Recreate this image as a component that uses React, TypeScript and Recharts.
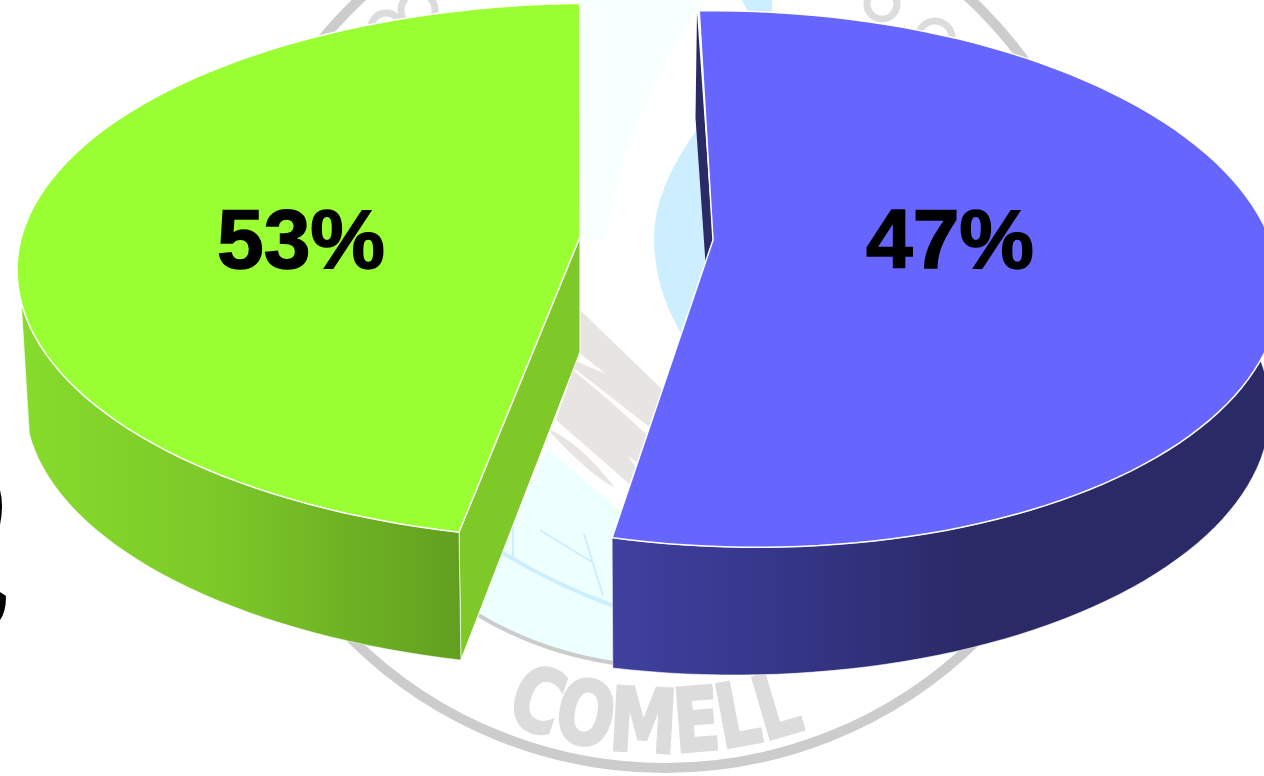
import { PieChart, Pie } from 'recharts';

const sliceNames = ['green', 'blue'];
const sliceShares = [53, 47];
const sliceLabels = ['53%', '47%'];
const sliceColors = ['#99FF33', '#6666FF'];

const chartData = sliceNames.map((name, i) => ({
  name,
  value: sliceShares[i],
  label: sliceLabels[i],
  fill: sliceColors[i],
}));

const WIDTH = 1264;
const HEIGHT = 776;
const PIE_CX = 600;
const PIE_CY = 270;
const PIE_R = 583;

// how each slice sits in the tilted view, relative to the pie centre
const views: Record<string, any> = {
  green: {
    dx: 0, dy: 0, rx: 1, ry: 267 / 583, tilt: 0, bulge: 1.012,
    baseDx: 0, baseDy: 131, baseRx: 575 / 583, baseRy: 267 / 583,
    from: 92, to: 256, wallFrom: 187, wallTo: 256, baseFrom: 187, baseTo: 256,
    apex: [-20, -33],
    stops: [['#86dc2c', 0], ['#7cc828', 0.45], ['#629f20', 1]],
    gradX: [20, 460],
    labelDx: -299,
  },
  blue: {
    dx: 135, dy: 9, rx: 545 / 583, ry: 268 / 583, tilt: 1.5, bulge: 1,
    baseDx: 135, baseDy: 140, baseRx: 535 / 583, baseRy: 265 / 583,
    from: 257.7, to: 454.5, wallFrom: 257.7, wallTo: 375, baseFrom: 256.8, baseTo: 375,
    apex: [113, -30],
    stops: [['#40409f', 0], ['#36368a', 0.25], ['#2a2a66', 0.55], ['#2a2a66', 1]],
    gradX: [614, 1264],
    labelDx: 350,
  },
};

// bulge: the near half of the disc reads slightly deeper than the far half
const onEllipse = (ex: number, ey: number, rx: number, ry: number, tilt: number, deg: number, bulge = 1) => {
  const a = (deg * Math.PI) / 180;
  const t = (tilt * Math.PI) / 180;
  const x = rx * Math.cos(a);
  const s = Math.sin(a);
  const y = -ry * s * (s < 0 ? bulge : 1);
  return [ex + x * Math.cos(t) - y * Math.sin(t), ey + x * Math.sin(t) + y * Math.cos(t)];
};

const arc = (ex: number, ey: number, rx: number, ry: number, tilt: number, d0: number, d1: number, bulge = 1) => {
  const steps = Math.max(2, Math.ceil(Math.abs(d1 - d0) / 2));
  const pts = [];
  for (let i = 0; i <= steps; i++) {
    pts.push(onEllipse(ex, ey, rx, ry, tilt, d0 + ((d1 - d0) * i) / steps, bulge));
  }
  return pts;
};

const toPath = (pts: number[][]) =>
  pts.map((p, i) => `${i === 0 ? 'M' : 'L'}${p[0].toFixed(1)} ${p[1].toFixed(1)}`).join(' ') + ' Z';

function Slice3D(props: any) {
  const { cx, cy, outerRadius, name, fill } = props;
  const v = views[name];
  const topX = cx + v.dx;
  const topY = cy + v.dy;
  const topRx = outerRadius * v.rx;
  const topRy = outerRadius * v.ry;
  const baseX = cx + v.baseDx;
  const baseY = cy + v.baseDy;
  const baseRx = outerRadius * v.baseRx;
  const baseRy = outerRadius * v.baseRy;
  const apex = [cx + v.apex[0], cy + v.apex[1]];

  const topArc = arc(topX, topY, topRx, topRy, v.tilt, v.from, v.to, v.bulge);
  const wallTop = arc(topX, topY, topRx, topRy, v.tilt, v.wallFrom, v.wallTo, v.bulge);
  const wallBase = arc(baseX, baseY, baseRx, baseRy, 0, v.baseTo, v.baseFrom);
  const gradId = `wall-${name}`;

  return (
    <g>
      <defs>
        <linearGradient id={gradId} gradientUnits="userSpaceOnUse" x1={v.gradX[0]} x2={v.gradX[1]} y1={0} y2={0}>
          {v.stops.map((s: any[]) => (
            <stop key={s[1]} offset={s[1]} stopColor={s[0]} />
          ))}
        </linearGradient>
      </defs>
      {name === 'green' && (
        <path
          d={toPath([
            apex,
            onEllipse(topX, topY, topRx, topRy, 0, v.to, v.bulge),
            onEllipse(baseX, baseY, baseRx, baseRy, 0, v.to),
            [apex[0], apex[1] + 115],
          ])}
          fill="#7ec828"
          stroke="#fff"
          strokeWidth={1}
        />
      )}
      {name === 'blue' && (
        <path
          d={toPath([
            [cx + 97, cy - 258],
            [cx + 95.5, cy - 152],
            [cx + 105.5, cy - 7],
            apex,
          ])}
          fill="#2a2a66"
        />
      )}
      <path d={toPath([...wallTop, ...wallBase])} fill={`url(#${gradId})`} stroke="#fff" strokeWidth={0.8} strokeOpacity={0.7} />
      <path d={toPath([apex, ...topArc])} fill={fill} stroke="#fff" strokeWidth={1.5} />
    </g>
  );
}

function sliceLabel(props: any) {
  const { cx, name, payload } = props;
  const v = views[name ?? payload.name];
  return (
    <text
      x={cx + v.labelDx}
      y={268}
      textAnchor="middle"
      fontFamily="'Liberation Sans', Arial, sans-serif"
      fontWeight={700}
      fontSize={84}
      fill="#000"
      stroke="#000"
      strokeWidth={1.5}
    >
      {payload.label}
    </text>
  );
}

function Watermark() {
  return (
    <svg width={WIDTH} height={HEIGHT} style={{ position: 'absolute', left: 0, top: 0 }}>
      <path d="M580 0 L705 0 Q625 110 605 240 L580 240 Z" fill="#f7ffff" />
      <path d="M698 128 Q653 190 654 240 Q655 290 682 335 L720 260 Z" fill="#cceeff" />
      <path d="M742 0 L772 0 L772 12 L748 12 Z" fill="#cceeff" />
      <path d="M580 310 L670 397 L634 488 L556 420 L570 380 Z" fill="#e8e4e2" />
      <path d="M578 352 L606 374 L578 362 Z M575 369 L652 429 L648 436 Q610 400 575 372 Z M628 456 L642 466 L638 470 Z" fill="#fff" />
      <path d="M551 430 Q582 445 615 488 Q590 475 551 433 Z" fill="#e8e4e2" />
      <path d="M547 448 L625 515 L630 665 Q540 652 475 612 Z" fill="#eeffff" />
      <path d="M478 615 Q540 652 614 663" stroke="#cccccc" strokeWidth={4} fill="none" />
      <path d="M503 553 Q555 585 614 606" stroke="#cceeff" strokeWidth={4} fill="none" />
      <path d="M513 525 L513 560 M540 530 L592 562 M584 534 L603 596" stroke="#cceeff" strokeWidth={2} fill="none" />
      <circle cx={665} cy={323} r={445} fill="none" stroke="#cccccc" strokeWidth={10} />
      <circle cx={386} cy={28} r={15} fill="none" stroke="#dcdcdc" strokeWidth={7} />
      <circle cx={418} cy={10} r={17} fill="none" stroke="#dcdcdc" strokeWidth={7} />
      <circle cx={882} cy={4} r={15} fill="none" stroke="#dcdcdc" strokeWidth={7} />
      <circle cx={935} cy={38} r={17} fill="none" stroke="#dcdcdc" strokeWidth={7} />
      <path id="wm-arc" d="M470 705 A427 427 0 0 0 860 705" fill="none" />
      <text fontFamily="'DejaVu Sans', sans-serif" fontWeight={700} fontSize={88} fill="#dcdcdc" stroke="#dcdcdc" strokeWidth={3}>
        <textPath href="#wm-arc" startOffset={38} textLength={308} lengthAdjust="spacingAndGlyphs">
          COMELL
        </textPath>
      </text>
      <path d="M0 490 Q4 505 0 525 Z" fill="#000" />
      <path d="M0 592 L6 596 Q6 612 0 620 Z" fill="#000" />
    </svg>
  );
}

export default function App() {
  return (
    <div style={{ position: 'fixed', left: 0, top: 0, width: WIDTH, height: HEIGHT, overflow: 'hidden', background: '#fff' }}>
      <Watermark />
      <div style={{ position: 'absolute', left: 0, top: 0 }}>
        <PieChart width={WIDTH} height={HEIGHT} margin={{ top: 0, right: 0, bottom: 0, left: 0 }}>
          <Pie
            data={chartData}
            dataKey="value"
            nameKey="name"
            cx={PIE_CX}
            cy={PIE_CY}
            outerRadius={PIE_R}
            innerRadius={0}
            startAngle={90}
            endAngle={450}
            paddingAngle={0}
            stroke="none"
            shape={Slice3D}
            label={sliceLabel}
            labelLine={false}
            isAnimationActive={false}
          />
        </PieChart>
      </div>
    </div>
  );
}
